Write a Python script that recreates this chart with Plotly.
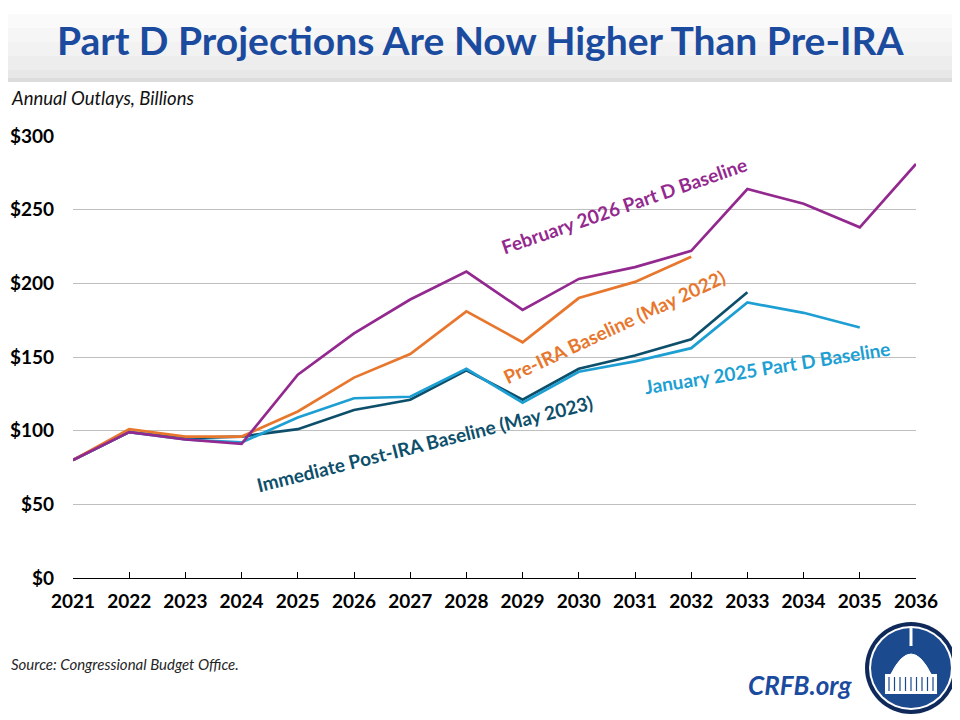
import plotly.graph_objects as go

# Datos (miles de millones de dólares)
years = list(range(2021, 2037))
post_ira_2023 = [80, 99, 95, 96, 101, 114, 121, 141, 121, 142, 151, 162, 194, None, None, None]
jan_2025 = [80, 99, 94, 92, 109, 122, 123, 142, 119, 140, 147, 156, 187, 180, 170, None]
pre_ira_2022 = [80, 101, 96, 96, 113, 136, 152, 181, 160, 190, 201, 218, None, None, None, None]
feb_2026 = [80, 99, 94, 91, 138, 166, 189, 208, 182, 203, 211, 222, 264, 254, 238, 281]

y_ticks = [0, 50, 100, 150, 200, 250, 300]
y_labels = ["$0", "$50", "$100", "$150", "$200", "$250", "$300"]

series = [
    ("Immediate Post-IRA Baseline (May 2023)", post_ira_2023, "#0D4F6B", 2027.25, 91.5, -14),
    ("January 2025 Part D Baseline", jan_2025, "#1E9FD3", 2033.35, 143, -9),
    ("Pre-IRA Baseline (May 2022)", pre_ira_2022, "#E8772E", 2030.63, 171, -25),
    ("February 2026 Part D Baseline", feb_2026, "#93298F", 2030.8, 253, -19),
]

FONT = "Lato"

# la página tiene 8px de margen: se trabaja en píxeles de la imagen de referencia
def px(x):
    return (x - 73) / 843

def py(y):
    return (578 - y) / 442

fig = go.Figure()
for name, vals, color, lx, ly, ang in series:
    fig.add_trace(go.Scatter(x=years, y=vals, mode="lines", name=name,
                             line=dict(color=color, width=2.7)))
    fig.add_annotation(x=lx, y=ly, xref="x", yref="y", text="<b>%s</b>" % name,
                       textangle=ang, showarrow=False,
                       font=dict(family=FONT, size=19, color=color))

# Banda del título con degradado
band = [(0, 14, "#FFFFFF"), (14, 28, "#FAFAFA"), (28, 42, "#F6F6F6"),
        (42, 56, "#F2F2F2"), (56, 70, "#EDEDED"), (70, 78, "#E7E7E7"), (78, 82, "#DCDCDC")]
for y0, y1, g in band:
    fig.add_shape(type="rect", xref="paper", yref="paper",
                  x0=px(0), x1=px(970), y0=py(y1), y1=py(y0),
                  line_width=0, fillcolor=g, layer="below")

# Logo
cx, cy, r = 911, 668, 46
def circ(rr, fill):
    fig.add_shape(type="circle", xref="paper", yref="paper",
                  x0=px(cx - rr), x1=px(cx + rr), y0=py(cy + rr), y1=py(cy - rr),
                  fillcolor=fill, line_width=0)
circ(r, "#0F2A5A")
circ(r - 4, "#FFFFFF")
circ(r - 6, "#1C4A8E")
# capitolio simplificado
fig.add_shape(type="path", xref="paper", yref="paper",
              path="M %f,%f Q %f,%f %f,%f Z" % (px(cx - 20), py(cy + 6), px(cx), py(cy - 34),
                                                  px(cx + 20), py(cy + 6)),
              fillcolor="#FFFFFF", line=dict(color="#FFFFFF", width=1))
fig.add_shape(type="rect", xref="paper", yref="paper",
              x0=px(cx - 26), x1=px(cx + 26), y0=py(cy + 26), y1=py(cy + 6),
              fillcolor="#FFFFFF", line_width=0)
fig.add_shape(type="line", xref="paper", yref="paper",
              x0=px(cx), x1=px(cx), y0=py(cy - 22), y1=py(cy - 40),
              line=dict(color="#FFFFFF", width=3))
for k in range(-4, 5):
    fig.add_shape(type="line", xref="paper", yref="paper",
                  x0=px(cx + k * 5.5), x1=px(cx + k * 5.5), y0=py(cy + 23), y1=py(cy + 9),
                  line=dict(color="#1C4A8E", width=1.2))

fig.add_annotation(x=px(481), y=py(40), xref="paper", yref="paper", xanchor="center",
                   yanchor="middle",
                   text="<b>Part D Projections Are Now Higher Than Pre-IRA</b>",
                   showarrow=False, font=dict(family=FONT, size=39, color="#1B4B9E"))
fig.add_annotation(x=px(9), y=py(98), xref="paper", yref="paper", xanchor="left",
                   yanchor="middle", text="<i>Annual Outlays, Billions</i>", showarrow=False,
                   font=dict(family=FONT, size=18.5, color="#111111"))
fig.add_annotation(x=px(9), y=py(664), xref="paper", yref="paper", xanchor="left",
                   yanchor="middle", text="<i>Source: Congressional Budget Office.</i>",
                   showarrow=False, font=dict(family=FONT, size=15, color="#262626"))
fig.add_annotation(x=px(854), y=py(685), xref="paper", yref="paper", xanchor="right",
                   yanchor="middle", text="<b><i>CRFB.org</i></b>", showarrow=False,
                   font=dict(family=FONT, size=26, color="#1B4B9E"))

fig.update_layout(
    width=952, height=712,
    margin=dict(l=65, r=44, t=128, b=142),
    paper_bgcolor="white", plot_bgcolor="white",
    showlegend=False,
    font=dict(family=FONT, color="black"),
    xaxis=dict(range=[2021, 2036], tickmode="array", tickvals=years,
               ticktext=["<b>%d</b>" % y for y in years],
               showgrid=False, zeroline=False, showline=True, linecolor="black",
               linewidth=1, ticks="inside", ticklen=6, tickcolor="black",
               ticklabelstandoff=6, automargin=False,
               tickfont=dict(size=19, color="black")),
    yaxis=dict(range=[0, 300], tickmode="array", tickvals=y_ticks,
               ticktext=["<b>%s</b>" % t for t in y_labels],
               showgrid=True, gridcolor="#BFBFBF", gridwidth=1, zeroline=False,
               showline=False, ticks="", ticklabelstandoff=18, automargin=False,
               tickfont=dict(size=19, color="black")),
)

fig.write_html("out.html")
